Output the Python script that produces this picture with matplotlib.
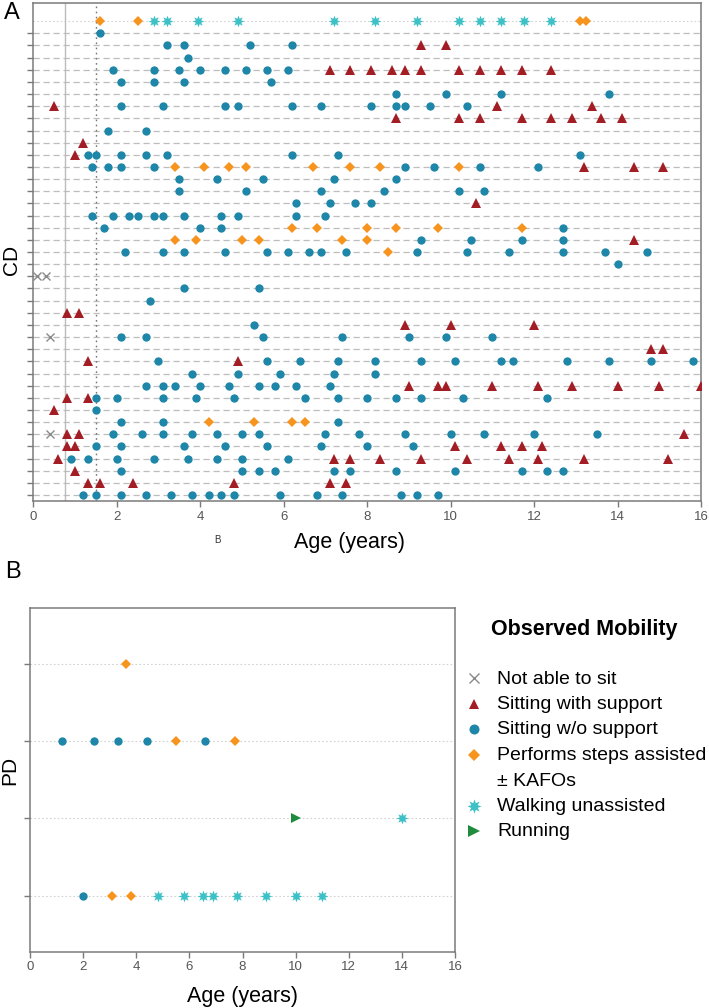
import matplotlib
matplotlib.use("Agg")
import matplotlib.pyplot as plt
from matplotlib.lines import Line2D

plt.rcParams["font.family"] = ["Liberation Sans", "DejaVu Sans"]

# ---- data -----------------------------------------------------------------
AGE_TICKS = [0, 2, 4, 6, 8, 10, 12, 14, 16]
CD_ROWS = 40          # row 0 is the top (ungrouped) row
PD_ROWS = 4

# CD patients: row -> ages (years) per observed mobility class
CD_NOT_SIT = {21: [0.1, 0.3], 26: [0.4], 34: [0.4]}
CD_SIT_SUPPORT = {
    2: [9.3, 9.9],
    4: [7.1, 7.6, 8.1, 8.6, 8.9, 9.3, 10.2, 10.7, 11.2, 11.7, 12.4],
    7: [0.5, 11.1, 13.4],
    8: [8.7, 10.2, 10.7, 11.7, 12.4, 12.9, 13.6, 14.1],
    10: [1.2],
    11: [1.0],
    12: [13.2, 14.4, 15.1],
    15: [10.6],
    18: [14.4],
    24: [0.8, 1.1],
    25: [8.9, 10.0, 12.0],
    27: [14.8, 15.1],
    28: [1.3, 4.9],
    30: [9.0, 9.7, 9.9, 11.0, 12.1, 12.9, 14.0, 15.0, 16.0],
    31: [0.8, 1.3],
    32: [0.5],
    34: [0.8, 1.1, 15.6],
    35: [0.8, 1.0, 10.1, 11.2, 11.7, 12.2],
    36: [0.6, 7.2, 7.6, 8.3, 9.3, 10.4, 11.4, 12.1, 13.2, 15.2],
    37: [1.0],
    38: [1.3, 1.6, 2.4, 4.8, 7.1, 7.5],
}
CD_SIT_NO_SUPPORT = {
    1: [1.6],
    2: [3.2, 3.6, 5.2, 6.2],
    3: [3.7],
    4: [1.9, 2.9, 3.5, 4.0, 4.6, 5.1, 5.6, 6.1],
    5: [2.1, 2.9, 3.6, 5.7],
    6: [8.7, 9.9, 11.2, 13.8],
    7: [2.1, 3.1, 4.6, 4.9, 6.2, 6.9, 8.1, 8.7, 8.9, 9.5, 10.4],
    9: [1.8, 2.7],
    11: [1.3, 1.5, 2.1, 2.7, 3.2, 6.2, 7.3, 13.1],
    12: [1.4, 1.8, 2.1, 2.9, 8.9, 9.6, 10.7, 12.1],
    13: [3.5, 4.4, 5.5, 7.2, 8.7],
    14: [3.5, 5.1, 6.9, 8.4, 10.2, 10.8],
    15: [6.3, 7.1, 7.7, 8.1],
    16: [1.4, 1.9, 2.3, 2.5, 2.9, 3.1, 3.6, 4.5, 4.9, 6.3, 7.0],
    17: [1.7, 4.0, 4.5, 12.7],
    18: [9.3, 10.5, 11.7, 12.7],
    19: [2.2, 3.1, 3.6, 4.6, 5.6, 6.1, 6.6, 6.9, 7.5, 9.2, 10.4, 11.4,
         12.7, 13.7, 14.7],
    20: [14.0],
    22: [3.6, 5.4],
    23: [2.8],
    25: [5.3],
    26: [2.1, 2.7, 5.5, 7.4, 9.0, 9.9, 11.0],
    28: [3.0, 5.6, 6.4, 7.3, 8.2, 9.3, 10.1, 11.2, 11.5, 12.8, 13.8, 14.8,
         15.8],
    29: [3.8, 4.9, 5.9, 7.2, 8.2],
    30: [2.7, 3.1, 3.4, 4.0, 4.7, 5.4, 5.8, 6.3, 7.1],
    31: [1.5, 2.0, 3.1, 3.9, 4.8, 6.5, 7.3, 8.0, 8.7, 9.3, 10.3, 12.3],
    32: [1.5],
    33: [2.1, 3.1, 7.3],
    34: [1.9, 2.6, 3.1, 3.8, 4.4, 5.0, 5.4, 7.0, 7.8, 8.9, 10.0, 10.8,
         12.0, 13.5],
    35: [1.5, 2.1, 3.6, 4.6, 5.6, 6.9, 8.0, 9.1],
    36: [0.9, 1.3, 2.0, 2.9, 3.7, 4.4, 5.0, 6.1],
    37: [2.1, 5.0, 5.4, 5.8, 7.2, 7.6, 8.7, 10.1, 11.7, 12.3, 12.7],
    39: [1.2, 1.5, 2.1, 2.7, 3.3, 3.8, 4.2, 4.5, 4.8, 5.9, 6.8, 7.4, 8.8,
         9.2, 9.7],
}
CD_STEPS = {
    0: [1.6, 2.5, 13.1, 13.25],
    12: [3.4, 4.1, 4.7, 5.1, 6.7, 7.6, 8.3, 10.2],
    17: [6.2, 6.8, 8.0, 8.7, 9.7, 11.7],
    18: [3.4, 3.9, 5.0, 5.4, 7.4, 8.0],
    19: [8.5],
    33: [4.2, 5.3, 6.2, 6.5],
}
CD_WALKING = {0: [2.9, 3.2, 3.95, 4.9, 7.2, 8.2, 9.2, 10.2, 10.7, 11.2,
                  11.75, 12.4]}

# PD patients (row 0 at top)
PD_SIT_NO_SUPPORT = {1: [1.2, 2.4, 3.3, 4.4, 6.6], 3: [2.0]}
PD_STEPS = {0: [3.6], 1: [5.5, 7.7], 3: [3.1, 3.8]}
PD_WALKING = {2: [14.0], 3: [4.8, 5.8, 6.5, 6.9, 7.8, 8.9, 10.0, 11.0]}
PD_RUNNING = {2: [10.0]}

LEGEND_KEYS = ["not_sit", "support", "no_support", "steps", "walking",
               "running"]
LABELS = ["Not able to sit", "Sitting with support", "Sitting w/o support",
          "Performs steps assisted\n\u00b1 KAFOs", "Walking unassisted",
          "Running"]

# ---- styles ---------------------------------------------------------------
STYLE = {
    "not_sit": dict(marker="x", color="#8a8a8a", ms=6, mew=1.0),
    "support": dict(marker="^", color="#a31d24", ms=6.5, mew=0),
    "no_support": dict(marker="o", color="#1e86a8", ms=6, mew=0),
    "steps": dict(marker="D", color="#f7941d", ms=5.5, mew=0),
    "walking": dict(marker=(8, 1, 0), color="#3ec1c6", ms=8.5, mew=0),
    "running": dict(marker=">", color="#1e8c3c", ms=7, mew=0),
}
SPINE = "#7a7a7a"
TICK_TXT = "#555555"


def draw(ax, data, style):
    for row, ages in data.items():
        ax.plot(ages, [row] * len(ages), linestyle="none", zorder=3, **style)


def style_axes(ax):
    for sp in ax.spines.values():
        sp.set_color(SPINE)
        sp.set_linewidth(1.1)
    ax.tick_params(axis="both", colors=SPINE, labelcolor=TICK_TXT,
                   length=4, width=1, labelsize=9.5, pad=3)
    ax.set_xlim(0, 16)
    ax.set_xticks(AGE_TICKS)


W, H = 709, 1008
fig = plt.figure(figsize=(W / 100, H / 100), dpi=100)


def fx(px):
    return px / W


def fy(py):
    return 1 - py / H


# ---- panel A --------------------------------------------------------------
axA = fig.add_axes([fx(33.3), fy(501), fx(701 - 33.3), (501 - 3.3) / H])
style_axes(axA)
row_px0, row_step = 21.15, 12.15
axA.set_ylim((501 - row_px0) / row_step, (3.3 - row_px0) / row_step)
axA.set_yticks(range(1, CD_ROWS))
axA.set_yticklabels([])
axA.axhline(0, color="#d4d4d4", lw=0.8, ls=(0, (1.5, 2)), zorder=1)
for r in range(1, CD_ROWS):
    axA.axhline(r, color="#bdbdbd", lw=0.9, ls=(0, (5, 3)), zorder=1)
axA.axvline(0.75, color="#bcbcbc", lw=1.0, zorder=1)
axA.axvline(1.5, color="#777777", lw=1.0, ls=(0, (1.2, 2.5)), zorder=1)

draw(axA, CD_NOT_SIT, STYLE["not_sit"])
draw(axA, CD_SIT_SUPPORT, STYLE["support"])
draw(axA, CD_SIT_NO_SUPPORT, STYLE["no_support"])
draw(axA, CD_STEPS, STYLE["steps"])
draw(axA, CD_WALKING, STYLE["walking"])

# ---- panel B --------------------------------------------------------------
axB = fig.add_axes([fx(30), fy(951.7), fx(455 - 30), (951.7 - 608.3) / H])
style_axes(axB)
b0, bstep = 663.7, 77.3
axB.set_ylim((951.7 - b0) / bstep, (608.3 - b0) / bstep)
axB.set_yticks(range(PD_ROWS))
axB.set_yticklabels([])
for r in range(PD_ROWS):
    axB.axhline(r, color="#d2d2d2", lw=0.8, ls=(0, (1.5, 2)), zorder=1)

draw(axB, PD_SIT_NO_SUPPORT, STYLE["no_support"])
draw(axB, PD_STEPS, STYLE["steps"])
draw(axB, PD_WALKING, STYLE["walking"])
draw(axB, PD_RUNNING, STYLE["running"])

# ---- texts ----------------------------------------------------------------
fig.text(fx(12), fy(13), "A", fontsize=17, ha="center", va="center")
fig.text(fx(13), fy(572), "B", fontsize=17, ha="center", va="center")
fig.text(fx(11), fy(260), "CD", fontsize=15, rotation=90,
         ha="center", va="center")
fig.text(fx(10), fy(770), "PD", fontsize=15, rotation=90,
         ha="center", va="center")
fig.text(fx(349), fy(547.7), "Age (years)", fontsize=15.5,
         ha="center", va="baseline")
fig.text(fx(217), fy(540), "B", fontsize=7, color="#333333",
         ha="center", va="center")
fig.text(fx(242), fy(1002), "Age (years)", fontsize=15.5,
         ha="center", va="baseline")

# ---- legend (drawn by hand so the wrapped label keeps its marker on line 1)
fig.text(fx(584), fy(629), "Observed Mobility", fontsize=15.5,
         fontweight="bold", ha="center", va="center")
leg_y = 678
for key, label in zip(LEGEND_KEYS, LABELS):
    st = dict(STYLE[key])
    st["ms"] = st["ms"] * 1.2
    fig.add_artist(Line2D([fx(474)], [fy(leg_y)], transform=fig.transFigure,
                          linestyle="none", **st))
    for line in label.split("\n"):
        fig.text(fx(497), fy(leg_y + 5.5), line, fontsize=14,
                 ha="left", va="baseline")
        leg_y += 25.5

fig.savefig("out.png", dpi=100)
